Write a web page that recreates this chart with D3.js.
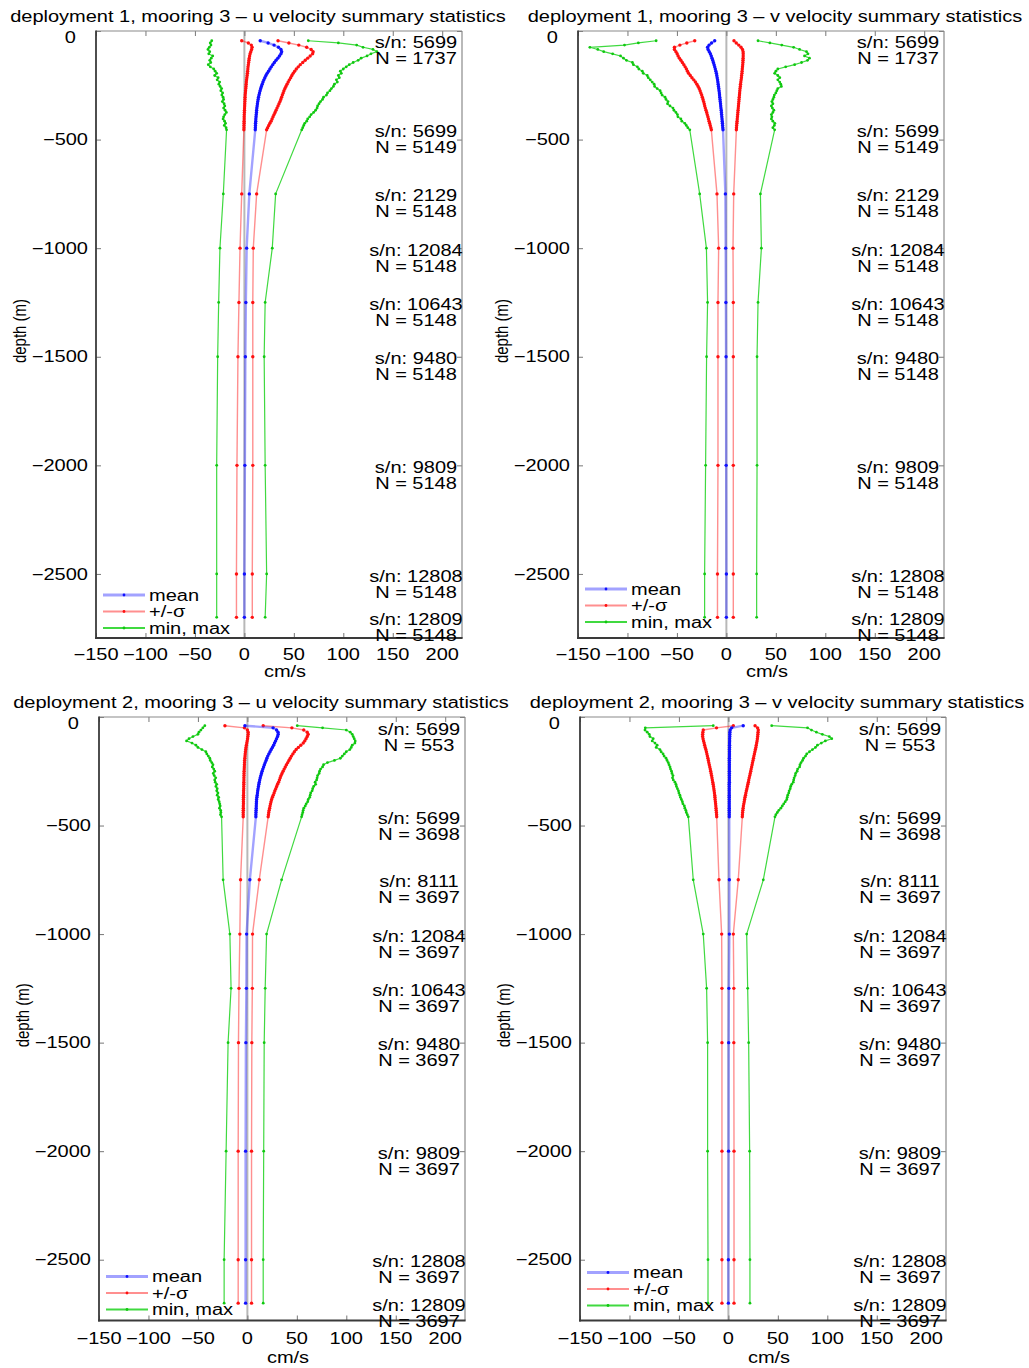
<!DOCTYPE html>
<html>
<head>
<meta charset="utf-8">
<script src="https://cdn.jsdelivr.net/npm/d3@7"></script>
<style>
  body { margin: 0; background: #fff; }
</style>
</head>
<body>
<svg id="fig" width="1029" height="1368"></svg>
<script>
// ---------------------------------------------------------------------------
// Mooring 3 velocity summary statistics (cm/s) against depth (m).
// Upper part of each profile: ADCP bins (10 m spacing); below that the
// single-point current meters at fixed depths.
// ---------------------------------------------------------------------------

// Depths, deployment 1: ADCP bins then instruments
const depthsDep1 = [-45, -55, -65, -75, -85, -95, -105, -115, -125, -135, -145, -155, -165, -175,
  -185, -195, -205, -215, -225, -235, -245, -255, -265, -275, -285, -295, -305, -315, -325, -335,
  -345, -355, -365, -375, -385, -395, -405, -415, -425, -435, -445, -455,
  -750, -1000, -1250, -1500, -2000, -2500, -2700];

// Depths, deployment 2: ADCP bins then instruments
const depthsDep2 = [-40, -50, -60, -70, -80, -90, -100, -110, -120, -130, -140, -150, -160, -170,
  -180, -190, -200, -210, -220, -230, -240, -250, -260, -270, -280, -290, -300, -310, -320, -330,
  -340, -350, -360, -370, -380, -390, -400, -410, -420, -430, -440, -450, -460,
  -750, -1000, -1250, -1500, -2000, -2500, -2700];

// Deployment 1, u component
const d1uMean = [16, 24, 30, 34.5, 37, 37.7, 37, 35.5, 33.8, 32, 30.3, 28.7, 27.2, 25.8, 24.4, 23,
  21.8, 20.7, 19.7, 18.8, 18, 17.2, 16.5, 15.9, 15.3, 14.8, 14.3, 13.9, 13.5, 13.2, 12.9, 12.6,
  12.4, 12.2, 12, 11.8, 11.6, 11.5, 11.3, 11.2, 11.1, 11,
  5, 2.3, 1.5, 1, 0.5, 0, 0];
const d1uLow = [-2.7, 4, 7, 7.8, 7.3, 6.5, 5.8, 5.3, 4.9, 4.6, 4.3, 4, 3.7, 3.5, 3.3, 3.1, 2.8,
  2.5, 2.2, 2, 1.8, 1.6, 1.4, 1.2, 1, 0.8, 0.7, 0.6, 0.5, 0.4, 0.3, 0.2, 0.1, 0, -0.1, -0.2,
  -0.2, -0.3, -0.3, -0.4, -0.4, -0.5,
  -2.7, -4.4, -5.5, -6.5, -7.5, -8, -8];
const d1uHigh = [34, 45, 55, 63, 67.5, 69.5, 69, 66.5, 64, 61.5, 59, 56.5, 54.5, 52.5, 50.8, 49.3,
  48, 46.8, 45.5, 44.3, 43.1, 42, 41, 40, 39.2, 38.4, 37.6, 36.8, 36, 35, 34, 33, 32, 31, 30, 29,
  28, 27, 25.8, 24.6, 23.5, 22.5,
  12.4, 9, 8.5, 8.5, 8.5, 8, 8];
const d1uMin = [-33, -34.5, -33.8, -35.5, -36.8, -35, -36, -32, -33.5, -35, -34, -36.5, -34.5, -31,
  -29.5, -28, -30, -26.5, -27.5, -25, -25.8, -24.5, -23, -23.8, -22, -22.8, -21.5, -21, -22.3,
  -20.5, -19.8, -21, -19.5, -18.2, -19.8, -21, -21.5, -20, -19, -20.3, -18.5, -18,
  -21.3, -24.7, -26, -27, -28, -28, -28];
const d1uMax = [64.6, 95, 113.5, 120, 130, 134, 128, 124, 118, 115, 110, 106, 103, 100, 97, 98, 95,
  96, 93, 94, 91, 90, 88, 86.5, 84, 83, 80, 79, 77, 75.5, 74, 73.5, 72, 70, 67.5, 66, 64, 63, 61,
  60, 59, 58,
  31.6, 28.2, 21, 20, 21, 22.5, 21];

// Deployment 1, v component
const d1vMean = [-11.8, -15, -17.5, -19, -18.5, -17.3, -16.2, -15.3, -14.5, -13.8, -13.1, -12.4,
  -11.8, -11.2, -10.6, -10.1, -9.7, -9.3, -8.9, -8.6, -8.3, -8, -7.7, -7.4, -7.1, -6.9, -6.7,
  -6.4, -6.2, -5.9, -5.7, -5.5, -5.2, -5, -4.8, -4.6, -4.4, -4.2, -4, -3.8, -3.6, -3.4,
  -1, -0.7, -0.5, -0.3, -0.2, 0, 0];
const d1vLow = [-32, -40, -47, -52.5, -52.5, -51, -49.8, -48.8, -47.5, -46, -44.5, -43, -41.7,
  -40.4, -39.3, -38.2, -36.5, -34.8, -33, -31.3, -29.8, -28.6, -27.5, -26.6, -25.8, -25, -24.3,
  -23.6, -23, -22.4, -21.9, -21.3, -20.6, -19.9, -19.3, -18.7, -18.1, -17.5, -16.9, -16.3,
  -15.7, -15.2,
  -9.5, -7.8, -8.5, -8.5, -8.5, -9, -9];
const d1vHigh = [7.7, 10, 12.5, 14.8, 16.3, 16.9, 17, 17, 16.9, 16.8, 16.7, 16.5, 16.3, 16.1, 15.9,
  15.7, 15.4, 15.2, 14.9, 14.6, 14.3, 14.1, 13.8, 13.6, 13.4, 13.2, 13, 12.8, 12.6, 12.4, 12.2,
  12, 11.8, 11.6, 11.4, 11.2, 11, 10.8, 10.6, 10.4, 10.2, 10.1,
  7.4, 6.7, 7, 7, 7, 7, 7];
const d1vMin = [-71, -89, -103, -138, -130, -124, -115, -107, -104, -101, -95, -94, -90, -88.5, -85,
  -84, -80, -79, -77, -75, -73, -72.5, -70, -67, -66, -65, -62, -61, -59, -59.5, -57, -54, -53,
  -51, -49.5, -49, -46, -45, -42, -40.5, -39, -37,
  -27, -20.2, -19, -20, -21, -22, -22];
const d1vMax = [32, 44, 56, 68, 74, 81, 82.5, 79, 84, 82, 76, 69, 60, 52, 50, 48.8, 52, 54, 52,
  53.9, 55, 55.6, 52, 51, 50, 48.5, 48, 47, 46, 47, 45.5, 46.5, 48, 47, 45.5, 46, 45.5, 47, 49,
  48.5, 47, 48.8,
  34.4, 35.4, 32, 31, 31, 30.6, 30.6];

// Deployment 2, u component
const d2uMean = [-2.5, 26, 29.5, 31, 31.2, 30.5, 29.5, 28.5, 27.5, 26.5, 25.3, 24.1, 22.9, 21.7,
  20.6, 19.7, 18.9, 18, 17.2, 16.4, 15.6, 14.9, 14.2, 13.6, 13, 12.5, 12, 11.6, 11.2, 10.8, 10.5,
  10.2, 9.9, 9.6, 9.3, 9.2, 9.1, 9, 8.9, 8.8, 8.7, 8.6, 8.6,
  2.5, -0.8, -1, -1.5, -1.8, -1.8, -1.8];
const d2uLow = [-22.7, -3, 0, 0.8, 0.8, 0.5, 0.2, -0.2, -0.6, -1, -1.4, -1.7, -2, -2.2, -2.4, -2.6,
  -2.8, -2.9, -3, -3.1, -3.2, -3.3, -3.4, -3.4, -3.5, -3.5, -3.6, -3.6, -3.7, -3.7, -3.8, -3.8,
  -3.9, -3.9, -4, -4, -4, -4.1, -4.1, -4.1, -4.2, -4.2, -4.2,
  -6.9, -7.6, -8.5, -9, -9.3, -9.3, -9.3];
const d2uHigh = [16, 45, 57, 60.5, 61.5, 60.5, 59.3, 58, 56.5, 54, 51.5, 49.3, 47.5, 46, 44.5, 43.3,
  42, 40.8, 39.5, 38.3, 37.2, 36.1, 35, 34, 33.2, 32.4, 31.5, 30.5, 29.6, 28.7, 27.8, 27, 26.1,
  25.3, 24.5, 23.9, 23.4, 22.9, 22.5, 22, 21.6, 21.3, 21,
  12, 5.2, 5, 4.5, 4.2, 4.2, 4.2];
const d2uMin = [-43, -45, -47, -49, -50, -55, -59, -61.5, -56, -52, -50, -46, -42, -41, -39.5, -38,
  -37.5, -36, -34.8, -35.5, -34, -33, -34.5, -33.5, -32, -33, -32.5, -31, -31.8, -30.5, -31,
  -29.8, -30.5, -29, -29.5, -28.5, -28, -27.5, -28.2, -27, -26.8, -27.2, -26.1,
  -24.5, -17.7, -16.5, -19.5, -21.5, -23.5, -23.5];
const d2uMax = [50.4, 76, 100, 104, 106, 107, 108, 109, 108.7, 106, 105, 103.6, 100, 98, 96, 94, 88,
  81, 77, 76, 74, 73, 72.5, 71, 70.5, 70, 68.5, 69, 67, 66, 65.5, 64, 63.5, 63, 61.5, 61, 59.5,
  58.5, 57, 56.4, 56, 55.3, 54.8,
  34.6, 19.4, 18, 17, 16.5, 16, 16];

// Deployment 2, v component
const d2vMean = [15, 3.3, 1.8, 1.5, 1.4, 1.4, 1.3, 1.3, 1.2, 1.2, 1.2, 1.1, 1.1, 1.1, 1.1, 1, 1, 1,
  1, 1, 1, 1, 1, 1, 1, 1, 1, 0.9, 0.9, 0.9, 0.9, 0.9, 0.9, 0.9, 0.9, 0.9, 0.9, 0.9, 0.9, 0.9, 0.9,
  0.9, 0.9,
  1, 1, 0.5, 0.3, 0.2, 0, 0];
const d2vLow = [5, -12, -25.4, -25.8, -26, -26, -25.6, -25.1, -24.5, -24, -23.4, -22.8, -22.2, -21.7,
  -21.2, -20.7, -20.2, -19.8, -19.3, -18.8, -18.3, -17.9, -17.4, -17, -16.6, -16.2, -15.8, -15.4,
  -15, -14.7, -14.4, -14.1, -13.8, -13.6, -13.4, -13.1, -12.9, -12.7, -12.5, -12.3, -12.1,
  -11.9, -11.8,
  -9.5, -6.8, -6.5, -6.5, -6.5, -6.5, -6.5];
const d2vHigh = [27, 29.5, 30.2, 30, 29.8, 29.6, 29.3, 29, 28.6, 28.2, 27.8, 27.3, 26.8, 26.3, 25.8,
  25.4, 24.9, 24.4, 24, 23.5, 23, 22.6, 22.1, 21.6, 21.1, 20.6, 20.2, 19.7, 19.2, 18.7, 18.2,
  17.7, 17.3, 16.8, 16.4, 16, 15.6, 15.2, 14.9, 14.6, 14.4, 14.2, 14.1,
  10, 5, 5.5, 5.5, 5.7, 5.7, 5.7];
const d2vMin = [-15.3, -84, -84.3, -82, -80, -79.3, -76, -77, -74.2, -72, -73, -69.2, -68, -66, -65,
  -63, -62, -60.8, -60, -59, -58.5, -57.5, -57, -56, -56.5, -55.7, -54, -53, -52.5, -51.5, -50.5,
  -50, -49, -48.5, -47.5, -46.5, -46, -44.5, -44, -43, -42.5, -41.5, -40.5,
  -35.5, -25.4, -22, -21, -21, -20.6, -20.6];
const d2vMax = [43.8, 80, 84, 89, 95, 102, 104.5, 98, 94, 90, 88, 85, 82, 79.2, 78, 76, 75, 73.5,
  72.4, 72, 70, 69.5, 68, 67.5, 66.5, 66, 65.6, 64, 63, 62.5, 61.5, 61, 60, 59.5, 59, 57.5, 56,
  54.5, 53, 51, 49.5, 48, 47.1,
  35.3, 18.5, 19.5, 20.5, 21.5, 21.8, 21.8];

// Instrument annotations
const labelDepthsDep1 = [-45, -455, -750, -1000, -1250, -1500, -2000, -2500, -2700];
const labelDepthsDep2 = [-50, -460, -750, -1000, -1250, -1500, -2000, -2500, -2700];
const serialsDep1 = ["5699", "5699", "2129", "12084", "10643", "9480", "9809", "12808", "12809"];
const serialsDep2 = ["5699", "5699", "8111", "12084", "10643", "9480", "9809", "12808", "12809"];
const countsDep1 = [1737, 5149, 5148, 5148, 5148, 5148, 5148, 5148, 5148];
const countsDep2 = [553, 3698, 3697, 3697, 3697, 3697, 3697, 3697, 3697];

// Axis ticks and text
const xTicks = [-150, -100, -50, 0, 50, 100, 150, 200];
const yTicks = [0, -500, -1000, -1500, -2000, -2500];
const legendLabels = ["mean", "+/-\u03c3", "min, max"];
const titles = [
  "deployment 1, mooring 3 \u2013 u velocity summary statistics",
  "deployment 1, mooring 3 \u2013 v velocity summary statistics",
  "deployment 2, mooring 3 \u2013 u velocity summary statistics",
  "deployment 2, mooring 3 \u2013 v velocity summary statistics"
];
const xAxisLabel = "cm/s";
const yAxisLabel = "depth (m)";

// ---------------------------------------------------------------------------
const svg = d3.select("#fig");
svg.append("rect").attr("width", 1029).attr("height", 1368).attr("fill", "#fff");

const FONT = '"Liberation Sans", Arial, Helvetica, sans-serif';
const SX = 1.25;   // wide glyphs
const FS = 16;

function label(g, x, y, s, anchor, size, rot) {
  return g.append("text")
    .attr("transform", `translate(${x},${y}) scale(${SX},1)` + (rot ? ` rotate(${rot})` : ""))
    .attr("text-anchor", anchor || "middle")
    .attr("dy", "0.35em")
    .style("font-family", FONT)
    .style("font-size", (size || FS) + "px")
    .attr("fill", "#000")
    .text(s);
}

const fmt = v => (v < 0 ? "\u2212" + Math.abs(v) : String(v));

// line / marker styles for the three statistics
const styles = {
  mean: { line: "#3030ff", lineOpacity: 0.45, width: 2.4, dot: "#1010ff", r: 1.7 },
  sd:   { line: "#ff2020", lineOpacity: 0.5,  width: 1.4, dot: "#ff1010", r: 1.7 },
  ext:  { line: "#10d010", lineOpacity: 0.8,  width: 1.2, dot: "#10c810", r: 1.4 }
};

const panels = [
  { title: titles[0], titleX: 258, left: 96, right: 462, top: 31, bottom: 638, yMin: -2795,
    depths: depthsDep1, mean: d1uMean, low: d1uLow, high: d1uHigh, min: d1uMin, max: d1uMax,
    labelDepths: labelDepthsDep1, serials: serialsDep1, counts: countsDep1,
    tickGap: 16, xlabGap: 33, legendGap: 43 },
  { title: titles[1], titleX: 775, left: 578, right: 944, top: 31, bottom: 638, yMin: -2795,
    depths: depthsDep1, mean: d1vMean, low: d1vLow, high: d1vHigh, min: d1vMin, max: d1vMax,
    labelDepths: labelDepthsDep1, serials: serialsDep1, counts: countsDep1,
    tickGap: 16, xlabGap: 33, legendGap: 49 },
  { title: titles[2], titleX: 261, left: 99, right: 465, top: 717, bottom: 1320.5, yMin: -2780,
    depths: depthsDep2, mean: d2uMean, low: d2uLow, high: d2uHigh, min: d2uMin, max: d2uMax,
    labelDepths: labelDepthsDep2, serials: serialsDep2, counts: countsDep2,
    tickGap: 17.5, xlabGap: 37, legendGap: 44 },
  { title: titles[3], titleX: 777, left: 580, right: 946, top: 717, bottom: 1320.5, yMin: -2780,
    depths: depthsDep2, mean: d2vMean, low: d2vLow, high: d2vHigh, min: d2vMin, max: d2vMax,
    labelDepths: labelDepthsDep2, serials: serialsDep2, counts: countsDep2,
    tickGap: 17.5, xlabGap: 37, legendGap: 48 }
];

panels.forEach(p => {
  const g = svg.append("g");
  const x = d3.scaleLinear().domain([-150, 220]).range([p.left, p.right]);
  const y = d3.scaleLinear().domain([p.yMin, 0]).range([p.bottom, p.top]);

  // zero reference line
  g.append("line")
    .attr("x1", x(0)).attr("x2", x(0)).attr("y1", p.top).attr("y2", p.bottom)
    .attr("stroke", "#b8b8b8").attr("stroke-width", 2);

  // inward ticks on all four sides
  const tickStyle = sel => {
    sel.select(".domain").remove();
    sel.selectAll(".tick line").attr("stroke", "#777").attr("stroke-width", 1);
  };
  g.append("g").attr("transform", `translate(0,${p.bottom})`)
    .call(d3.axisBottom(x).tickValues(xTicks).tickSize(-5).tickFormat("")).call(tickStyle);
  g.append("g").attr("transform", `translate(0,${p.top})`)
    .call(d3.axisTop(x).tickValues(xTicks).tickSize(-5).tickFormat("")).call(tickStyle);
  g.append("g").attr("transform", `translate(${p.left},0)`)
    .call(d3.axisLeft(y).tickValues(yTicks).tickSize(-5).tickFormat("")).call(tickStyle);
  g.append("g").attr("transform", `translate(${p.right},0)`)
    .call(d3.axisRight(y).tickValues(yTicks).tickSize(-5).tickFormat("")).call(tickStyle);

  // profiles
  const line = d3.line().x(d => x(d[0])).y(d => y(d[1]));
  const series = [
    { vals: p.min, st: styles.ext }, { vals: p.max, st: styles.ext },
    { vals: p.low, st: styles.sd }, { vals: p.high, st: styles.sd },
    { vals: p.mean, st: styles.mean }
  ];
  series.forEach(s => {
    const pts = s.vals.map((v, i) => [v, p.depths[i]]);
    g.append("path").attr("d", line(pts)).attr("fill", "none")
      .attr("stroke", s.st.line).attr("stroke-opacity", s.st.lineOpacity)
      .attr("stroke-width", s.st.width).attr("stroke-linejoin", "round");
    g.append("g").selectAll("circle").data(pts).join("circle")
      .attr("cx", d => x(d[0])).attr("cy", d => y(d[1])).attr("r", s.st.r)
      .attr("fill", s.st.dot);
  });

  // frame: darker left/bottom, lighter top/right
  g.append("line").attr("x1", p.left).attr("x2", p.right).attr("y1", p.top).attr("y2", p.top)
    .attr("stroke", "#8a8a8a").attr("stroke-width", 1.2);
  g.append("line").attr("x1", p.right).attr("x2", p.right).attr("y1", p.top).attr("y2", p.bottom)
    .attr("stroke", "#8a8a8a").attr("stroke-width", 1.2);
  g.append("line").attr("x1", p.left).attr("x2", p.left).attr("y1", p.top - 0.6).attr("y2", p.bottom + 0.9)
    .attr("stroke", "#3a3a3a").attr("stroke-width", 1.8);
  g.append("line").attr("x1", p.left - 0.9).attr("x2", p.right + 0.6).attr("y1", p.bottom).attr("y2", p.bottom)
    .attr("stroke", "#3a3a3a").attr("stroke-width", 1.8);

  // tick labels
  xTicks.forEach(t => label(g, x(t), p.bottom + p.tickGap, fmt(t), "middle"));
  yTicks.forEach(t => {
    if (t === 0) label(g, p.left - 20, y(t) + 6, fmt(t), "end");   // top label tucked under the corner
    else label(g, p.left - 8, y(t), fmt(t), "end");
  });

  // axis titles and panel title
  label(g, (p.left + p.right) / 2 + 6, p.bottom + p.xlabGap, xAxisLabel, "middle");
  label(g, p.left - 77, (p.top + p.bottom) / 2 - 3.5, yAxisLabel, "middle", 15, -90);
  label(g, p.titleX, p.top - 15, p.title, "middle");

  // instrument annotations
  p.labelDepths.forEach((d, i) => {
    const cx = p.right - 46;
    label(g, cx, y(d) + 2, "s/n: " + p.serials[i], "middle");
    label(g, cx, y(d) + 18, "N = " + p.counts[i], "middle");
  });

  // legend
  const legStyles = [styles.mean, styles.sd, styles.ext];
  legendLabels.forEach((txt, i) => {
    const ly = p.bottom - p.legendGap + i * 16.5;
    const x0 = p.left + 7, x1 = p.left + 49;
    const st = legStyles[i];
    g.append("line").attr("x1", x0).attr("x2", x1).attr("y1", ly).attr("y2", ly)
      .attr("stroke", st.line).attr("stroke-opacity", st.lineOpacity).attr("stroke-width", st.width + 0.6);
    g.append("circle").attr("cx", (x0 + x1) / 2).attr("cy", ly).attr("r", 1.4).attr("fill", st.dot);
    label(g, p.left + 53, ly, txt, "start");
  });
});
</script>
</body>
</html>
